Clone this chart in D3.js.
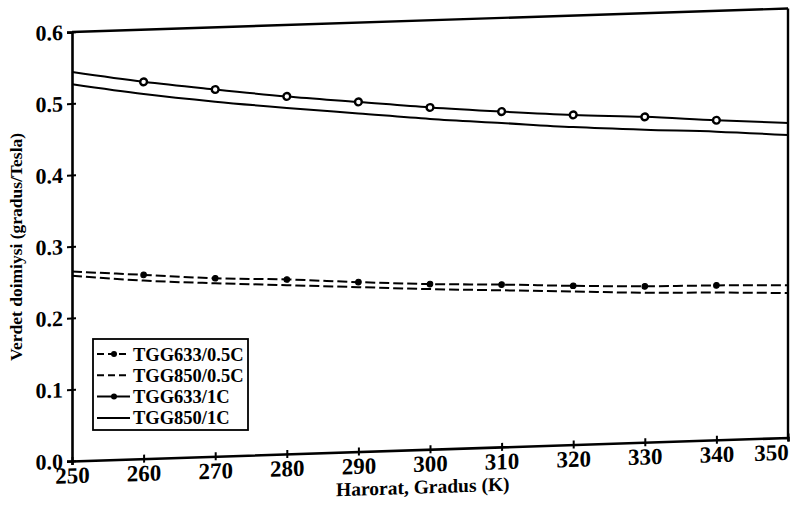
<!DOCTYPE html>
<html>
<head>
<meta charset="utf-8">
<script src="https://cdn.jsdelivr.net/npm/d3@7"></script>
<style>
  html, body { margin: 0; padding: 0; background: #fff; }
</style>
</head>
<body>
<svg id="chart" width="791" height="519"></svg>
<script>
// ---- data ----
const temperatures = [250, 260, 270, 280, 290, 300, 310, 320, 330, 340, 350];
const tgg633_05C = [0.265, 0.257, 0.249, 0.244, 0.237, 0.231, 0.227, 0.222, 0.218, 0.216, 0.213];
const tgg850_05C = [0.259, 0.249, 0.242, 0.236, 0.230, 0.224, 0.219, 0.214, 0.209, 0.206, 0.202];
const tgg633_1C  = [0.544, 0.527, 0.513, 0.500, 0.489, 0.478, 0.469, 0.461, 0.455, 0.447, 0.440];
const tgg850_1C  = [0.527, 0.510, 0.496, 0.484, 0.473, 0.462, 0.453, 0.444, 0.437, 0.431, 0.423];
const seriesNames = ["TGG633/0.5C", "TGG850/0.5C", "TGG633/1C", "TGG850/1C"];
const xTicks = [250, 260, 270, 280, 290, 300, 310, 320, 330, 340, 350];
const yTicks = [0.0, 0.1, 0.2, 0.3, 0.4, 0.5, 0.6];
const xTitle = "Harorat, Gradus (K)";
const yTitle = "Verdet doimiysi (gradus/Tesla)";

// ---- layout ----
const FONT = '"Liberation Serif", "Times New Roman", serif';
const svg = d3.select("#chart");
const W = 716, H = 429;
const x = d3.scaleLinear().domain([250, 350]).range([0, W]);
const y = d3.scaleLinear().domain([0, 0.6]).range([H, 0]);

const g = svg.append("g").attr("transform", "translate(72,32) skewY(-1.88)");

const styles = [
  { values: tgg633_05C, dash: "10,4", marker: "dot" },
  { values: tgg850_05C, dash: "10,4", marker: null },
  { values: tgg633_1C,  dash: null,  marker: "circle" },
  { values: tgg850_1C,  dash: null,  marker: null }
];

const line = d3.line()
  .x(d => x(d.t))
  .y(d => y(d.v))
  .curve(d3.curveMonotoneX);

styles.forEach(s => {
  const pts = temperatures.map((t, i) => ({ t, v: s.values[i] }));
  g.append("path")
    .attr("d", line(pts))
    .attr("fill", "none")
    .attr("stroke", "#000")
    .attr("stroke-width", 2)
    .attr("stroke-dasharray", s.dash);
  if (s.marker) {
    const mp = pts.filter(p => p.t > 250 && p.t < 350);
    g.selectAll(null).data(mp).enter().append("circle")
      .attr("cx", d => x(d.t))
      .attr("cy", d => y(d.v))
      .attr("r", s.marker === "circle" ? 3.4 : 2.8)
      .attr("fill", s.marker === "circle" ? "#fff" : "#000")
      .attr("stroke", "#000")
      .attr("stroke-width", s.marker === "circle" ? 2.4 : 1);
  }
});

// frame (top and right)
g.append("line").attr("x1", 0).attr("x2", W).attr("y1", 0).attr("y2", 0)
  .attr("stroke", "#000").attr("stroke-width", 2.4);
g.append("line").attr("x1", W).attr("x2", W).attr("y1", 0).attr("y2", H)
  .attr("stroke", "#000").attr("stroke-width", 2.4);

// axes
const xAxis = g.append("g").attr("transform", `translate(0,${H})`)
  .call(d3.axisBottom(x).tickValues(xTicks).tickFormat(d3.format("d")).tickSize(4).tickPadding(2));
xAxis.select(".domain").attr("stroke-width", 2.6);
xAxis.selectAll(".tick line").attr("y1", -4).attr("y2", 4).attr("stroke-width", 2);
xAxis.selectAll(".tick text").attr("fill", "#000")
  .style("font-size", "23px")
  .attr("dx", d => d === 350 ? -17 : 0);

const yAxis = g.append("g")
  .call(d3.axisLeft(y).tickValues(yTicks).tickFormat(d3.format(".1f")).tickSize(5).tickPadding(4));
yAxis.select(".domain").attr("stroke-width", 2.6);
yAxis.selectAll(".tick line").attr("x1", -5).attr("x2", 4).attr("stroke-width", 2);
yAxis.selectAll(".tick text").attr("fill", "#000").style("font-size", "22px");

// axis titles
g.append("text")
  .attr("x", x(299)).attr("y", H + 44)
  .attr("text-anchor", "middle")
  .style("font-size", "19.5px")
  .text(xTitle);

svg.append("text")
  .attr("transform", "translate(22,247) rotate(-90)")
  .attr("text-anchor", "middle")
  .style("font-size", "17.5px")
  .text(yTitle);

// legend
const lg = svg.append("g").attr("transform", "translate(93,339)");
lg.append("rect").attr("width", 155).attr("height", 91)
  .attr("fill", "#fff").attr("stroke", "#000").attr("stroke-width", 1.8);
seriesNames.forEach((name, i) => {
  const s = styles[i];
  const yy = 15 + i * 21.3;
  lg.append("line").attr("x1", 4).attr("x2", 37).attr("y1", yy).attr("y2", yy)
    .attr("stroke", "#000").attr("stroke-width", 2)
    .attr("stroke-dasharray", s.dash ? "7,4" : null);
  if (s.marker) {
    lg.append("circle").attr("cx", 21).attr("cy", yy).attr("r", 3).attr("fill", "#000");
  }
  lg.append("text").attr("x", 40).attr("y", yy + 6.5)
    .style("font-size", "18.5px")
    .text(name);
});

// fonts applied inline to every text
svg.selectAll("g").attr("font-family", null).attr("font-size", null);
svg.selectAll("text")
  .style("font-family", FONT)
  .style("font-weight", "bold");
</script>
</body>
</html>
